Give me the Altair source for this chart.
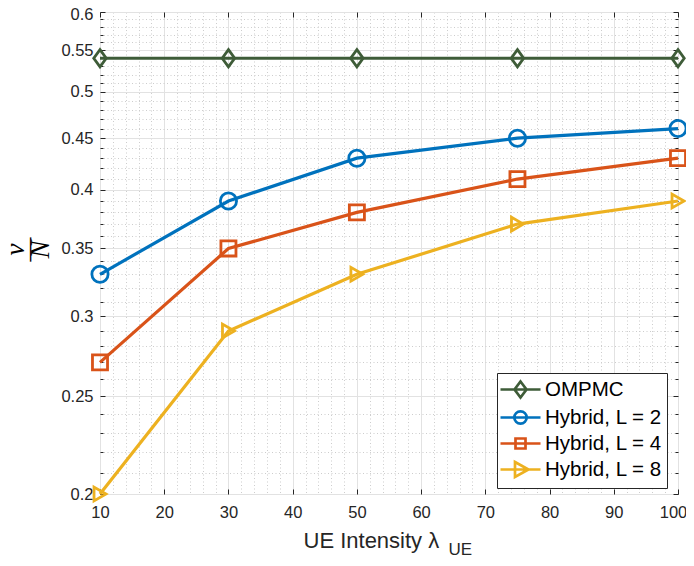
import altair as alt
import pandas as pd

# ---- data ----
lam = [10, 30, 50, 75, 100]
series_names = ["OMPMC", "Hybrid, L = 2", "Hybrid, L = 4", "Hybrid, L = 8"]
ompmc = [0.54, 0.54, 0.54, 0.54, 0.54]
hyb2 = [0.33, 0.39, 0.43, 0.45, 0.46]
hyb4 = [0.27, 0.35, 0.38, 0.41, 0.43]
hyb8 = [0.20, 0.29, 0.33, 0.37, 0.39]
colors = ["#3E5C38", "#0072BD", "#D95319", "#EDB120"]

x_major = [10, 20, 30, 40, 50, 60, 70, 80, 90, 100]
x_minor = [12, 14, 16, 18, 22, 24, 26, 28, 32, 34, 36, 38, 42, 44, 46, 48,
           52, 54, 56, 58, 62, 64, 66, 68, 72, 74, 76, 78, 82, 84, 86, 88,
           92, 94, 96, 98]
y_major = [0.2, 0.25, 0.3, 0.35, 0.4, 0.45, 0.5, 0.55, 0.6]
y_minor = [0.21, 0.22, 0.23, 0.24, 0.26, 0.27, 0.28, 0.29, 0.31, 0.32, 0.33,
           0.34, 0.36, 0.37, 0.38, 0.39, 0.41, 0.42, 0.43, 0.44, 0.46, 0.47,
           0.48, 0.49, 0.51, 0.52, 0.53, 0.54, 0.56, 0.57, 0.58, 0.59]

values = [ompmc, hyb2, hyb4, hyb8]
rows = []
for name, vals in zip(series_names, values):
    for xv, yv in zip(lam, vals):
        rows.append({"lam": xv, "v": yv, "series": name, "mk": name})
df = pd.DataFrame(rows)

# marker shapes (data) and legend symbols (line through marker)
diamond_path = "M0,-1L0.72,0L0,1L-0.72,0Z"
marker_shapes = [diamond_path, "circle", "square", "triangle-right"]
marker_sizes = [300, 190, 125, 270]

leg_paths = [
    "M-2,0H2M0,-0.8L0.6,0L0,0.8L-0.6,0Z",
    "M-2,0H2M0.62,0A0.62,0.62,0,1,1,-0.62,0A0.62,0.62,0,1,1,0.62,0Z",
    "M-2,0H2M-0.5,-0.5H0.5V0.5H-0.5Z",
    "M-2,0H2M-0.55,-0.75L0.8,0L-0.55,0.75Z",
]
shape_expr = " : ".join(
    f"datum.value === '{n}' ? '{p}'" for n, p in zip(series_names[:-1], leg_paths[:-1])
) + f" : '{leg_paths[-1]}'"

xs = alt.Scale(domain=[10, 100], nice=False, zero=False)
ys = alt.Scale(type="log", domain=[0.2, 0.6], nice=False)
cs = alt.Scale(domain=series_names, range=colors)

FONT = "Liberation Sans"
TC = "#262626"

legend = alt.Legend(
    title=None, orient="none", legendX=397, legendY=361,
    fillColor="white", strokeColor=TC, padding=5, cornerRadius=0,
    labelFont=FONT, labelFontSize=20.5, labelColor="black",
    rowPadding=2, symbolSize=400, symbolStrokeWidth=2.7,
    symbolOffset=7, labelOffset=13, symbolFillColor="transparent",
    symbolType=alt.ExprRef(expr=shape_expr),
)

x_main = alt.Axis(values=x_major, orient="bottom", grid=True, gridColor="#e2e2e2",
                  gridWidth=1, ticks=False, domain=False, labelFont=FONT,
                  labelFontSize=16.5, labelColor=TC, labelPadding=10, labelFlush=False,
                  labelOffset={"condition": {"test": "datum.value > 99", "value": -5}, "value": 0},
                  title="UE Intensity λ", titleFont=FONT, titleFontSize=22,
                  titleFontWeight="normal", titleColor=TC, titleAlign="left",
                  titleBaseline="alphabetic", titleX=203, titleY=53)
y_main = alt.Axis(values=y_major, orient="left", grid=True, gridColor="#e2e2e2",
                  gridWidth=1, ticks=False, domain=False, labelFont=FONT,
                  labelFontSize=16.5, labelColor=TC, labelPadding=7, labelFlush=False,
                  labelExpr="format(datum.value, '.2~f')",
                  labelOffset={"condition": {"test": "datum.value > 0.59", "value": 2}, "value": 0},
                  title=["v", "—", "N"], titleFont="Liberation Serif",
                  titleFontSize=27, titleFontStyle="italic",
                  titleFontWeight="normal", titleColor="black", titleAngle=270,
                  titleAlign="center", titleBaseline="middle", titleLineHeight=12.5,
                  titleX=-84.5, titleY=237)


def helper(xaxis, yaxis):
    return alt.Chart(df).mark_point(opacity=0).encode(
        x=alt.X("lam:Q", scale=xs, axis=xaxis),
        y=alt.Y("v:Q", scale=ys, axis=yaxis),
    )


def tick_axis(vals, orient, size, **kw):
    return alt.Axis(values=vals, orient=orient, offset=-size, tickSize=size,
                    tickColor=TC, tickWidth=1, grid=False, labels=False,
                    domain=False, **kw)


minor_grid = helper(
    alt.Axis(values=x_minor, orient="bottom", grid=True, gridDash=[1, 2.5],
             gridColor="#cdcdcd", ticks=False, labels=False, domain=False, title=None),
    alt.Axis(values=y_minor, orient="left", grid=True, gridDash=[1, 2.5],
             gridColor="#cdcdcd", ticks=False, labels=False, domain=False, title=None),
)

ticks_bl = helper(
    tick_axis(x_major, "bottom", 5, title="UE", titleFont=FONT, titleFontSize=17,
              titleFontWeight="normal", titleColor=TC, titleAlign="left",
              titleBaseline="alphabetic", titleX=348, titleY=65),
    tick_axis(y_major, "left", 5, title=None),
)
ticks_tr = helper(
    tick_axis(x_major, "top", 5, title=None),
    tick_axis(y_major, "right", 5, title=None),
)
minor_l = helper(None, tick_axis(y_minor, "left", 3, title=None))
minor_r = helper(None, tick_axis(y_minor, "right", 3, title=None))

lines = alt.Chart(df).mark_line(strokeWidth=3.2).encode(
    x=alt.X("lam:Q", scale=xs, axis=x_main),
    y=alt.Y("v:Q", scale=ys, axis=y_main),
    color=alt.Color("series:N", scale=cs, legend=legend),
)

points = alt.Chart(df).mark_point(filled=False, strokeWidth=2.8, opacity=1).encode(
    x=alt.X("lam:Q", scale=xs, axis=None),
    y=alt.Y("v:Q", scale=ys, axis=None),
    color=alt.Color("series:N", scale=cs, legend=legend),
    shape=alt.Shape("mk:N", scale=alt.Scale(range=marker_shapes), sort=series_names, legend=None),
    size=alt.Size("mk:N", scale=alt.Scale(range=marker_sizes), sort=series_names, legend=None),
)

chart = alt.layer(minor_grid, lines, points, ticks_bl, ticks_tr, minor_l, minor_r).resolve_axis(
    x="independent", y="independent"
).properties(
    width=578, height=482,
    autosize=alt.AutoSizeParams(type="none"),
    padding={"left": 92, "top": 4, "right": 8, "bottom": 64},
    background="white",
).configure_view(stroke=TC, strokeWidth=1)

chart.save("out.html", embed_options={"renderer": "svg", "actions": False})
